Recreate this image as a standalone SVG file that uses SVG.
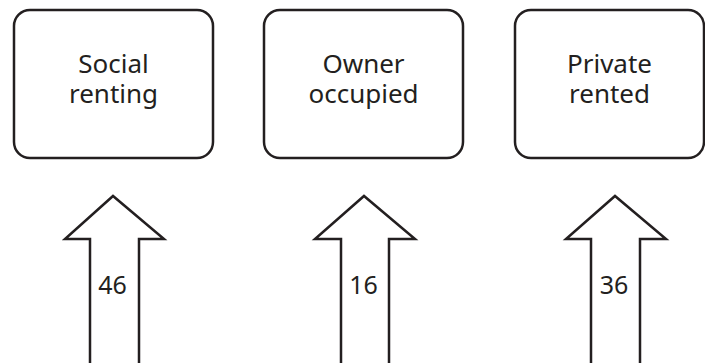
<svg xmlns="http://www.w3.org/2000/svg" width="705" height="363" viewBox="0 0 705 363">
<style>
.box{fill:#fff;stroke:#231f20;stroke-width:2.5}
.arr{fill:#fff;stroke:#231f20;stroke-width:2.5;stroke-linejoin:miter}
text{font-family:"Noto Sans","Open Sans",sans-serif;font-size:26px;fill:#231f20;text-anchor:middle}
text.n{font-size:25px}
</style>
<rect width="705" height="363" fill="#fff"/>
<g id="social">
<rect class="box" x="14" y="10" width="199" height="148" rx="16"/>
<text x="113.5" y="73">Social</text>
<text x="113.5" y="103">renting</text>
</g>
<g id="owner">
<rect class="box" x="264" y="10" width="199" height="148" rx="16"/>
<text x="363.5" y="73">Owner</text>
<text x="363.5" y="103">occupied</text>
</g>
<g id="private">
<rect class="box" x="515" y="10" width="189" height="148" rx="16"/>
<text x="609.5" y="73">Private</text>
<text x="609.5" y="103">rented</text>
</g>
<g id="connectors">
<g id="arrow1">
<path class="arr" d="M90,363 V239 H65 L113,196 L164,239 H139 V363"/>
<text class="n" x="112.5" y="294">46</text>
</g>
<g id="arrow2">
<path class="arr" d="M341,363 V239 H315 L364,196 L415,239 H389 V363"/>
<text class="n" x="363.5" y="294">16</text>
</g>
<g id="arrow3">
<path class="arr" d="M591,363 V239 H566 L615,196 L666,239 H640 V363"/>
<text class="n" x="614" y="294">36</text>
</g>
</g>
</svg>
